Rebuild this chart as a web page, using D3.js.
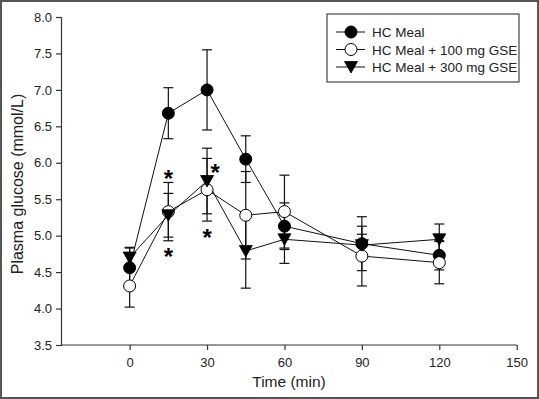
<!DOCTYPE html>
<html>
<head>
<meta charset="utf-8">
<script src="https://cdn.jsdelivr.net/npm/d3@7"></script>
<style>
  body { margin: 0; background: #fff; }
  svg { display: block; font-family: "Liberation Sans", Arial, sans-serif; }
</style>
</head>
<body>
<script>
// time points (min)
var times = [0, 15, 30, 45, 60, 90, 120];

// mean plasma glucose (mmol/L) and error (+/-)
var hcMean = [4.56, 6.68, 7.00, 6.05, 5.13, 4.89, 4.73];
var hcErr = [0.27, 0.35, 0.55, 0.32, 0.32, 0.37, 0.20];

var gse100Mean = [4.31, 5.33, 5.63, 5.28, 5.33, 4.72, 4.63];
var gse100Err = [0.29, 0.40, 0.43, 0.60, 0.50, 0.41, 0.29];

var gse300Mean = [4.70, 5.28, 5.75, 4.79, 4.95, 4.87, 4.95];
var gse300Err = [0.14, 0.30, 0.45, 0.51, 0.33, 0.15, 0.21];

var seriesNames = ['HC Meal', 'HC Meal + 100 mg GSE', 'HC Meal + 300 mg GSE'];
var seriesMarkers = ['filledCircle', 'openCircle', 'triangle'];

var yTicks = [3.5, 4.0, 4.5, 5.0, 5.5, 6.0, 6.5, 7.0, 7.5, 8.0];
var xTicks = [0, 30, 60, 90, 120, 150];

// significance marks: [time, value]
var starMarks = [[15, 5.85], [15, 4.78], [30, 5.04]];
var starMarksRight = [[30, 5.93]];

var width = 539, height = 399;
var svg = d3.select('body').append('svg')
    .attr('width', width)
    .attr('height', height);

// outer frame
svg.append('rect')
    .attr('x', 1).attr('y', 1)
    .attr('width', width - 2).attr('height', height - 2)
    .attr('fill', '#fff')
    .attr('stroke', '#555')
    .attr('stroke-width', 2);

var x = d3.scaleLinear().domain([-26.6, 150]).range([61, 516.7]);
var y = d3.scaleLinear().domain([3.5, 8]).range([345, 17]);

var axisColor = '#333';

var yAxis = svg.append('g')
    .attr('transform', 'translate(61,0)')
    .call(d3.axisLeft(y).tickValues(yTicks).tickFormat(d3.format('.1f')).tickSizeOuter(0).tickSize(5).tickPadding(4));
var xAxis = svg.append('g')
    .attr('transform', 'translate(0,345)')
    .call(d3.axisBottom(x).tickValues(xTicks).tickSizeOuter(0).tickSize(5).tickPadding(8));

[xAxis, yAxis].forEach(function (a) {
    a.select('.domain').attr('stroke', axisColor).attr('stroke-width', 1.2);
    a.selectAll('.tick line').attr('stroke', axisColor).attr('stroke-width', 1.2);
    a.selectAll('.tick text')
        .attr('fill', '#222')
        .style('font-size', '13px')
        .style('font-family', '"Liberation Sans", Arial, sans-serif');
});
// x-axis line starts at the y-axis
xAxis.select('.domain').attr('d', 'M' + x.range()[0] + ',0H' + x.range()[1]);

svg.append('text')
    .attr('transform', 'translate(23,184) rotate(-90)')
    .attr('text-anchor', 'middle')
    .attr('fill', '#222')
    .style('font-size', '16px')
    .text('Plasma glucose (mmol/L)');

svg.append('text')
    .attr('x', 289)
    .attr('y', 387)
    .attr('text-anchor', 'middle')
    .attr('fill', '#222')
    .style('font-size', '15.5px')
    .text('Time (min)');

var series = [
    { name: seriesNames[0], marker: seriesMarkers[0], mean: hcMean, err: hcErr },
    { name: seriesNames[1], marker: seriesMarkers[1], mean: gse100Mean, err: gse100Err },
    { name: seriesNames[2], marker: seriesMarkers[2], mean: gse300Mean, err: gse300Err }
];

var line = d3.line()
    .x(function (d) { return x(d.t); })
    .y(function (d) { return y(d.v); });

function points(s) {
    return times.map(function (t, i) { return { t: t, v: s.mean[i], e: s.err[i] }; });
}

// connecting lines
series.forEach(function (s) {
    svg.append('path')
        .datum(points(s))
        .attr('d', line)
        .attr('fill', 'none')
        .attr('stroke', '#111')
        .attr('stroke-width', 1);
});

// error bars
var capHalf = 5;
series.forEach(function (s) {
    var g = svg.append('g').attr('stroke', '#111').attr('stroke-width', 1.2);
    points(s).forEach(function (p) {
        var cx = x(p.t), top = y(p.v + p.e), bot = y(p.v - p.e);
        g.append('line').attr('x1', cx).attr('x2', cx).attr('y1', top).attr('y2', bot);
        g.append('line').attr('x1', cx - capHalf).attr('x2', cx + capHalf).attr('y1', top).attr('y2', top);
        g.append('line').attr('x1', cx - capHalf).attr('x2', cx + capHalf).attr('y1', bot).attr('y2', bot);
    });
});

function drawMarker(g, type, cx, cy) {
    if (type === 'triangle') {
        g.append('path')
            .attr('d', 'M' + (cx - 6.5) + ',' + (cy - 5.5) + 'L' + (cx + 6.5) + ',' + (cy - 5.5) + 'L' + cx + ',' + (cy + 6) + 'Z')
            .attr('fill', '#000').attr('stroke', '#000').attr('stroke-width', 0.8);
    } else {
        g.append('circle')
            .attr('cx', cx).attr('cy', cy).attr('r', 6)
            .attr('fill', type === 'filledCircle' ? '#000' : '#fff')
            .attr('stroke', '#000').attr('stroke-width', 1);
    }
}

// markers
series.forEach(function (s) {
    var g = svg.append('g');
    points(s).forEach(function (p) {
        drawMarker(g, s.marker, x(p.t), y(p.v));
    });
});

// asterisks
function star(px, py) {
    svg.append('text')
        .attr('x', px).attr('y', py + 13)
        .attr('text-anchor', 'middle')
        .style('font-size', '24px').style('font-weight', 'bold')
        .text('*');
}
starMarks.forEach(function (m) { star(x(m[0]), y(m[1])); });
starMarksRight.forEach(function (m) { star(x(m[0]) + 8, y(m[1])); });

// legend
var legend = svg.append('g').attr('transform', 'translate(327,14)');
legend.append('rect')
    .attr('width', 192).attr('height', 68)
    .attr('fill', '#fff').attr('stroke', '#444').attr('stroke-width', 1.2);
series.forEach(function (s, i) {
    var ry = 18 + i * 17.5;
    legend.append('line')
        .attr('x1', 9).attr('x2', 38).attr('y1', ry).attr('y2', ry)
        .attr('stroke', '#111').attr('stroke-width', 1);
    drawMarker(legend, s.marker, 24, ry);
    legend.append('text')
        .attr('x', 45).attr('y', ry + 5)
        .attr('fill', '#222')
        .style('font-size', '13.5px')
        .text(s.name);
});
</script>
</body>
</html>
